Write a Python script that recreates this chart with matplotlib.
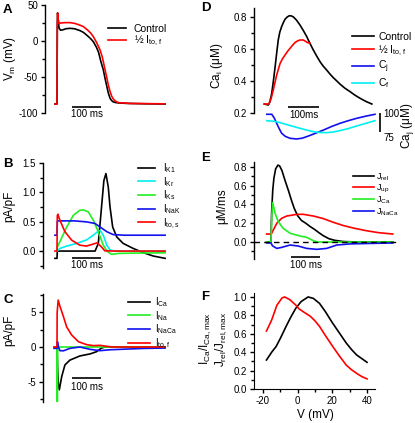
import matplotlib
matplotlib.use("Agg")
import matplotlib.pyplot as plt
from matplotlib.ticker import MultipleLocator

plt.rcParams['font.family'] = ['Liberation Sans', 'DejaVu Sans']
plt.rcParams['mathtext.default'] = 'regular'
plt.rcParams['axes.unicode_minus'] = False

# ---------------- DATA ----------------
# Panel A: action potentials (t in ms, V in mV)
a_ctrl_t = [-7, 0, 0.5, 1, 2, 4, 7, 12, 20, 30, 44, 60, 78, 90, 101, 113, 124, 135, 142, 150, 158, 164, 170, 175, 181, 187, 192, 200, 210, 240, 300, 369]
a_ctrl_v = [-87.5, -87.5, -30, 20, 39, 30, 18, 15, 15.5, 17, 17.6, 17, 14.5, 12, 8.3, 4, -1, -9, -16, -29, -40, -52, -63, -72, -79.6, -83, -84.5, -85.5, -86, -86.7, -87.2, -87.5]
a_half_t = [-7, 0, 0.5, 1, 2, 4, 7, 12, 25, 45, 60, 75, 90, 105, 115, 124, 135, 147, 155, 164, 170, 175, 181, 187, 192, 198, 205, 212, 250, 369]
a_half_v = [-87.5, -87.5, -30, 20, 39, 30, 24, 25, 25.5, 25.5, 24.5, 22.5, 20, 15, 11, 6, -2, -12.5, -23, -40, -51, -61, -70, -77, -80.5, -83, -84.8, -85.7, -86.7, -87.3]

# Panel B: K currents (pA/pF)
b_k1_t = [-7, 0, 1, 130, 141, 152, 160, 167, 175, 181, 190, 204, 226, 260, 295, 329, 369]
b_k1_v = [-0.124, -0.124, 0, 0, 0.13, 0.75, 1.2, 1.32, 1.09, 0.75, 0.41, 0.24, 0.13, 0.045, -0.028, -0.085, -0.124]
b_kr_t = [0, 10, 33, 67, 101, 124, 141, 148, 158, 170, 181, 195, 369]
b_kr_v = [0, 0.045, 0.085, 0.13, 0.19, 0.27, 0.34, 0.35, 0.27, 0.1, 0.02, 0, 0]
b_ks_t = [0, 1, 10, 33, 56, 78, 91, 107, 124, 141, 158, 172, 187, 210, 280, 369]
b_ks_v = [0, 0.07, 0.16, 0.41, 0.61, 0.695, 0.70, 0.666, 0.525, 0.327, 0.1, -0.01, -0.056, -0.04, -0.034, -0.03]
b_nak_t = [-7, 0, 1, 3, 60, 101, 130, 147, 170, 192, 230, 369]
b_nak_v = [0.27, 0.27, 0.5, 0.514, 0.514, 0.497, 0.47, 0.41, 0.33, 0.28, 0.27, 0.27]
b_tos_t = [-7, 0, 1, 3, 10, 27, 50, 78, 101, 124, 137, 152, 163, 200, 369]
b_tos_v = [0, 0, 0.6, 0.627, 0.525, 0.33, 0.186, 0.1, 0.085, 0.12, 0.14, 0.07, 0.005, 0, 0]

# Panel C: inward / fast currents (pA/pF)
c_ca_t = [-10, 0, 2, 5, 8, 16, 27, 44, 78, 113, 135, 152, 165, 369]
c_ca_v = [0, 0, -3.0, -5.5, -6.2, -4.3, -2.6, -1.9, -1.3, -1.0, -0.68, -0.15, 0, 0]
c_na_t = [-10, 0, 0.5, 1.5, 2.5, 369]
c_na_v = [0, 0, -8.0, -8.0, 0, 0]
c_naca_t = [-10, 0, 1.5, 5, 10, 22, 44, 78, 113, 147, 181, 239, 300, 369]
c_naca_v = [-0.2, -0.2, 0.77, 0, -0.53, -0.55, -0.2, 0, -0.34, -0.53, -0.4, -0.3, -0.2, -0.15]
c_tof_t = [-10, 0, 0.5, 4, 10, 22, 33, 50, 73, 101, 124, 147, 170, 190, 369]
c_tof_v = [0, 0, 5.0, 6.8, 5.9, 4.4, 2.9, 1.74, 0.77, 0.34, 0.2, 0.24, 0.1, 0, 0]

# Panel D: Ca transients (uM) and junctional / fuzzy space Ca (uM)
d_ctrl_t = [-12, 1, 6, 12, 18, 23, 28, 33, 38, 44, 50, 55, 62, 69, 76, 82, 92, 103, 114, 125, 135, 146, 157, 168, 178, 189, 200, 211, 222, 232, 248, 265, 280, 297, 315, 335]
d_ctrl_v = [0.256, 0.25, 0.27, 0.323, 0.41, 0.49, 0.575, 0.656, 0.705, 0.74, 0.767, 0.786, 0.80, 0.808, 0.806, 0.80, 0.78, 0.75, 0.715, 0.677, 0.636, 0.594, 0.556, 0.52, 0.493, 0.469, 0.443, 0.42, 0.4, 0.381, 0.355, 0.333, 0.312, 0.292, 0.273, 0.256]
d_half_t = [-12, 3, 10, 17, 28, 39, 47, 55, 63, 71, 79, 87, 95, 103, 114, 121, 127, 135]
d_half_v = [0.256, 0.256, 0.29, 0.344, 0.4375, 0.51, 0.54, 0.5625, 0.585, 0.604, 0.623, 0.64, 0.65, 0.656, 0.656, 0.648, 0.64, 0.636]
d_cj_t = [-4, 12, 20, 28, 36, 44, 56, 71, 92, 110, 125, 150, 179, 205, 232, 260, 286, 315, 345]
d_cj_v = [98.3, 98.3, 93.5, 86.4, 79.5, 73.3, 69.2, 66.7, 65.8, 66.8, 68.9, 72.8, 77.6, 82.2, 86.4, 90.0, 93.0, 95.8, 98.3]
d_cf_t = [-4, 20, 39, 65, 92, 120, 146, 168, 189, 210, 232, 260, 286, 315, 345]
d_cf_v = [89.9, 89.0, 87.3, 84.2, 81.1, 78.0, 75.4, 74.4, 74.1, 75.0, 76.8, 79.6, 82.9, 86.3, 89.9]

# Panel E: Ca fluxes (uM/ms)
e_rel_t = [-15, 0, 2, 6, 10, 16, 24, 30, 38, 48, 60, 70, 80, 92, 105, 120, 135, 150, 165, 180, 200, 220, 250, 300, 420]
e_rel_v = [0, 0, 0.3, 0.55, 0.68, 0.78, 0.82, 0.81, 0.76, 0.66, 0.55, 0.45, 0.36, 0.28, 0.23, 0.2, 0.165, 0.135, 0.1, 0.068, 0.035, 0.018, 0.005, 0, 0]
e_up_t = [-15, 1, 8, 20, 37, 54, 89, 112, 146, 180, 215, 250, 290, 330, 370, 420]
e_up_v = [0.085, 0.085, 0.128, 0.2, 0.253, 0.277, 0.295, 0.295, 0.277, 0.25, 0.21, 0.175, 0.145, 0.12, 0.1, 0.085]
e_ca_t = [-15, 0, 3, 6, 14, 25, 42, 66, 100, 123, 146, 160, 420]
e_ca_v = [0, 0, 0.3, 0.42, 0.306, 0.217, 0.146, 0.093, 0.064, 0.05, 0.014, 0, 0]
e_naca_t = [-15, 0, 5, 14, 20, 37, 66, 94, 123, 158, 192, 227, 273, 340, 420]
e_naca_v = [-0.01, -0.01, -0.04, -0.057, -0.068, -0.057, -0.032, -0.043, -0.068, -0.078, -0.068, -0.032, -0.02, -0.015, -0.01]

# Panel F: normalized voltage dependence
f_v = [-18, -15, -12.5, -10, -6.7, -4, -1, 2, 6, 9, 12.6, 16, 20, 24, 28, 31, 34, 37, 40]
f_ica = [0.315, 0.40, 0.46, 0.55, 0.68, 0.78, 0.88, 0.95, 1.0, 0.985, 0.93, 0.84, 0.72, 0.61, 0.50, 0.43, 0.37, 0.33, 0.29]
f_jrel_v = [-18, -15, -12, -9, -7.5, -4.5, -1, 0.8, 4, 7.3, 10, 12.6, 16, 20.3, 24, 28, 31, 34, 37, 40]
f_jrel = [0.63, 0.75, 0.91, 0.99, 1.0, 0.97, 0.91, 0.87, 0.83, 0.79, 0.74, 0.68, 0.58, 0.46, 0.36, 0.26, 0.21, 0.17, 0.135, 0.11]

# ---------------- FIGURE ----------------
W, H = 415, 423
fig = plt.figure(figsize=(W / 100, H / 100), dpi=100)

def px_axes(l, t, r, b):
    return fig.add_axes([l / W, 1 - b / H, (r - l) / W, (b - t) / H])

BLACK, RED, CYAN, GREEN, BLUE = 'black', '#ff0000', '#00f0f0', '#22ee22', '#1010f0'
LW = 1.2
TFS = 7
LFS = 7
YLFS = 8.5

def style_trace_axes(ax, major, minor):
    for s in ['top', 'right', 'bottom']:
        ax.spines[s].set_visible(False)
    ax.spines['left'].set_linewidth(1.0)
    ax.set_xticks([])
    ax.yaxis.set_major_locator(MultipleLocator(major))
    ax.yaxis.set_minor_locator(MultipleLocator(minor))
    ax.tick_params(axis='y', which='major', direction='out', length=3, width=1, labelsize=TFS, pad=2)
    ax.tick_params(axis='y', which='minor', direction='out', length=2, width=1)
    ax.patch.set_visible(False)

def scale_bar(ax, t0, y, label, ydrop):
    ax.plot([t0, t0 + 100], [y, y], color='k', lw=1.2, clip_on=False, solid_capstyle='butt')
    ax.text(t0 + 50, y - ydrop, label, ha='center', va='top', fontsize=TFS, clip_on=False)

def legend(ax, handles, labels, x, y, hl, pad, sp, fs=LFS):
    ax.legend(handles, labels, loc='upper left', bbox_to_anchor=(x / W, 1 - y / H),
              bbox_transform=fig.transFigure, frameon=False, fontsize=fs,
              handlelength=hl, handletextpad=pad, labelspacing=sp,
              borderaxespad=0, borderpad=0)

def ylabel(x, y, s, **kw):
    fig.text(x / W, 1 - y / H, s, fontsize=YLFS, rotation=90, ha='center', va='center', **kw)

def panel_letter(x, y, s):
    fig.text(x / W, 1 - y / H, s, fontsize=9.5, fontweight='bold', ha='left', va='center')

# ---- A ----
axA = px_axes(45, 5, 170, 113)
axA.set_xlim(-41, 385.7)
axA.set_ylim(-100, 50)
style_trace_axes(axA, 50, 25)
lA1, = axA.plot(a_ctrl_t, a_ctrl_v, color=BLACK, lw=LW)
lA2, = axA.plot(a_half_t, a_half_v, color=RED, lw=LW)
axA.set_yticks([-100, -50, 0, 50])
scale_bar(axA, 51, -91.7, '100 ms', 3)
ylabel(10, 58, 'V$_m$ (mV)')
legend(axA, [lA1, lA2], ['Control', '½ I$_{to,f}$'], 108, 24, 1.7, 0.75, 0.0, 7.5)

# ---- B ----
axB = px_axes(43, 163, 170, 267.5)
axB.set_xlim(-47.8, 385.7)
axB.set_ylim(-0.28, 1.5)
style_trace_axes(axB, 0.5, 0.25)
hB = [axB.plot(b_k1_t, b_k1_v, color=BLACK, lw=LW)[0],
      axB.plot(b_kr_t, b_kr_v, color=CYAN, lw=LW)[0],
      axB.plot(b_ks_t, b_ks_v, color=GREEN, lw=LW)[0],
      axB.plot(b_nak_t, b_nak_v, color=BLUE, lw=LW)[0],
      axB.plot(b_tos_t, b_tos_v, color=RED, lw=LW)[0]]
axB.set_yticks([0.0, 0.5, 1.0, 1.5])
axB.set_yticklabels(['0.0', '0.5', '1.0', '1.5'])
scale_bar(axB, 51, -0.12, '100 ms', 0.04)
ylabel(9, 206, 'pA/pF')
legend(axB, hB, ['I$_{K1}$', 'I$_{Kr}$', 'I$_{Ks}$', 'I$_{NaK}$', 'I$_{to,s}$'], 138, 161, 1.75, 0.8, 0.0)

# ---- C ----
axC = px_axes(43, 294, 170, 402)
axC.set_xlim(-47.8, 385.7)
axC.set_ylim(-7.97, 7.68)
style_trace_axes(axC, 5, 2.5)
hC = [axC.plot(c_ca_t, c_ca_v, color=BLACK, lw=LW)[0],
      axC.plot(c_na_t, c_na_v, color=GREEN, lw=LW)[0],
      axC.plot(c_naca_t, c_naca_v, color=BLUE, lw=LW)[0],
      axC.plot(c_tof_t, c_tof_v, color=RED, lw=LW)[0]]
axC.set_yticks([-5, 0, 5])
scale_bar(axC, 51, -4.5, '100 ms', 0.6)
ylabel(9, 330, 'pA/pF')
legend(axC, hC, ['I$_{Ca}$', 'I$_{Na}$', 'I$_{NaCa}$', 'I$_{to,f}$'], 128, 295, 2.3, 0.5, 0.0)

# ---- D ----
axD = px_axes(254, 8, 390, 113)
axD.set_xlim(-45.2, 393.5)
axD.set_ylim(0.2, 0.856)
style_trace_axes(axD, 0.2, 0.1)
axD.set_yticks([0.2, 0.4, 0.6, 0.8])
hD1 = axD.plot(d_ctrl_t, d_ctrl_v, color=BLACK, lw=LW)[0]
hD2 = axD.plot(d_half_t, d_half_v, color=RED, lw=LW)[0]
scale_bar(axD, 65, 0.238, '100ms', 0.02)
ylabel(217, 66, 'Ca$_i$ (μM)')

axD2 = px_axes(254, 100, 390, 150)
axD2.set_xlim(-45.2, 393.5)
axD2.set_ylim(51.3, 117.1)
axD2.axis('off')
hD3 = axD2.plot(d_cj_t, d_cj_v, color=BLUE, lw=LW)[0]
hD4 = axD2.plot(d_cf_t, d_cf_v, color=CYAN, lw=LW)[0]
axD2.plot([361, 361], [75, 100], color='k', lw=1.2, clip_on=False, solid_capstyle='butt')
axD2.text(373, 99, '100', fontsize=TFS, ha='left', va='center', clip_on=False)
axD2.text(373, 67, '75', fontsize=TFS, ha='left', va='center', clip_on=False)
ylabel(407, 126, 'Ca$_j$ (μM)')
legend(axD, [hD1, hD2, hD3, hD4], ['Control', '½ I$_{to,f}$', 'C$_j$', 'C$_f$'], 352, 32, 2.1, 0.4, 0.12, 7.5)

# ---- E ----
axE = px_axes(254, 162, 397, 259)
axE.set_xlim(-58.6, 434.5)
axE.set_ylim(-0.181, 0.853)
style_trace_axes(axE, 0.2, 0.1)
axE.set_yticks([0.0, 0.2, 0.4, 0.6, 0.8])
axE.set_yticklabels(['0.0', '0.2', '0.4', '0.6', '0.8'])
hE = [axE.plot(e_rel_t, e_rel_v, color=BLACK, lw=LW)[0],
      axE.plot(e_up_t, e_up_v, color=RED, lw=LW)[0],
      axE.plot(e_ca_t, e_ca_v, color=GREEN, lw=LW)[0],
      axE.plot(e_naca_t, e_naca_v, color=BLUE, lw=LW)[0]]
axE.axhline(0, color='k', lw=1.0, ls=(0, (4, 3)), zorder=5)
scale_bar(axE, 69, -0.16, '100 ms', 0.03)
ylabel(222, 206, 'μM/ms')
legend(axE, hE, ['J$_{rel}$', 'J$_{up}$', 'J$_{Ca}$', 'J$_{NaCa}$'], 353, 171, 2.3, 0.3, 0.0, 6.5)

# ---- F ----
axF = px_axes(254, 293, 375, 389)
axF.set_xlim(-25.2, 44.6)
axF.set_ylim(0, 1.043)
for s in ['top', 'right']:
    axF.spines[s].set_visible(False)
axF.plot(f_v, f_ica, color=BLACK, lw=LW)
axF.plot(f_jrel_v, f_jrel, color=RED, lw=LW)
axF.set_xticks([-20, 0, 20, 40])
axF.xaxis.set_minor_locator(MultipleLocator(10))
axF.set_yticks([0.0, 0.2, 0.4, 0.6, 0.8, 1.0])
axF.set_yticklabels(['0.0', '0.2', '0.4', '0.6', '0.8', '1.0'])
axF.yaxis.set_minor_locator(MultipleLocator(0.1))
axF.tick_params(which='major', direction='out', length=3, width=1, labelsize=TFS, pad=2)
axF.tick_params(which='minor', direction='out', length=2, width=1)
axF.patch.set_visible(False)
fig.text(315 / W, 1 - 415 / H, 'V (mV)', fontsize=YLFS, ha='center', va='center')
ylabel(213, 339, 'I$_{Ca}$/I$_{Ca,max}$\nJ$_{rel}$/J$_{rel,max}$', linespacing=1.0)

panel_letter(3, 10, 'A')
panel_letter(3, 164, 'B')
panel_letter(3, 300, 'C')
panel_letter(201, 8, 'D')
panel_letter(201, 158, 'E')
panel_letter(201, 297, 'F')

fig.savefig('out.png', dpi=100)
